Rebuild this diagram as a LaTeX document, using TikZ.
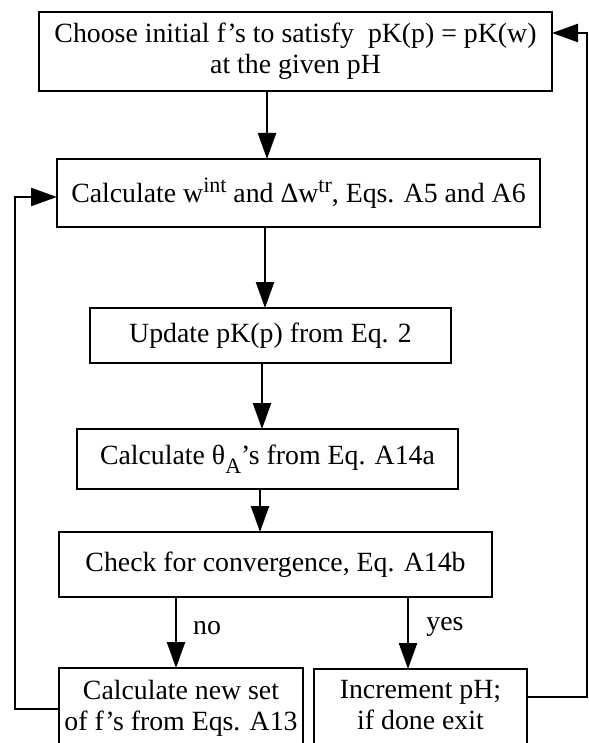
\documentclass[tikz,border=0pt]{standalone}
\usepackage{fontspec}
\setmainfont{Liberation Serif}
\usetikzlibrary{arrows.meta}
\newcommand\supx[1]{\raisebox{0.36em}{\fontsize{22}{22}\selectfont #1}}
\newcommand\subx[1]{\raisebox{-0.32em}{\fontsize{22}{22}\selectfont #1}}
\begin{document}
\begin{tikzpicture}[x=1pt,y=-1pt,
  box/.style={draw, line width=2.4pt, inner sep=0pt, outer sep=0pt, align=center,
    font=\fontsize{27.8}{31}\selectfont},
  lbl/.style={inner sep=0pt, font=\fontsize{27.8}{31}\selectfont},
  conn/.style={line width=2.4pt},
  arr/.style={line width=2.4pt, -{Triangle[length=26pt,width=18pt]}}]
\useasboundingbox (0,0) rectangle (588,743);
\clip (0,0) rectangle (588,743);
\fill[white] (0,0) rectangle (588,743);
% boxes
\node[box, minimum width=513pt, minimum height=79pt] (b1) at (295.5,51.5)
  {Choose initial f's to satisfy\ \ pK(p) = pK(w)\\ at the given pH};
\node[box, minimum width=483pt, minimum height=68pt] (b2) at (298.5,193)
  {Calculate w\supx{int} and Δw\supx{tr}, Eqs. A5 and A6};
\node[box, minimum width=361pt, minimum height=55pt] (b3) at (270.5,335.5)
  {Update pK(p) from Eq. 2};
\node[box, minimum width=381pt, minimum height=60pt] (b4) at (267.5,459)
  {Calculate θ\subx{A}'s from Eq. A14a};
\node[box, minimum width=433pt, minimum height=65pt] (b5) at (275.5,564.5)
  {Check for convergence, Eq. A14b};
\node[box, minimum width=244pt, minimum height=110pt] (b6) at (181,723) {};
\node[lbl, align=center] (t6) at (181,708) {Calculate new set\\of f's from Eqs. A13};
\node[box, minimum width=213pt, minimum height=110pt] (b7) at (420.5,724) {};
\node[lbl, align=center] (t7) at (420.5,705) {Increment pH;\\if done exit};
% labels
\node[lbl] (no) at (207,628) {no};
\node[lbl] (yes) at (445,627) {yes};
% x positions of vertical arrows
\coordinate (x12) at (267,0);
\coordinate (x23) at (265,0);
\coordinate (x34) at (262,0);
\coordinate (x45) at (260,0);
\coordinate (x56) at (176,0);
\coordinate (x57) at (408,0);
\draw[arr] (b1.south -| x12) -- (b2.north -| x12);
\draw[arr] (b2.south -| x23) -- (b3.north -| x23);
\draw[arr] (b3.south -| x34) -- (b4.north -| x34);
\draw[arr] (b4.south -| x45) -- (b5.north -| x45);
\draw[arr] (b5.south -| x56) -- (b6.north -| x56);
\draw[arr] (b5.south -| x57) -- (b7.north -| x57);
% feedback loops
\coordinate (fl) at (15,709);
\coordinate (fr) at (587,697);
\coordinate (in2) at (0,197);
\coordinate (in1) at (0,33);
\draw[arr] (b6.west |- fl) -- (fl) -- (fl |- in2) -- (b2.west |- in2);
\draw[arr] (b7.east |- fr) -- (fr) -- (fr |- in1) -- (b1.east |- in1);
\end{tikzpicture}
\end{document}
